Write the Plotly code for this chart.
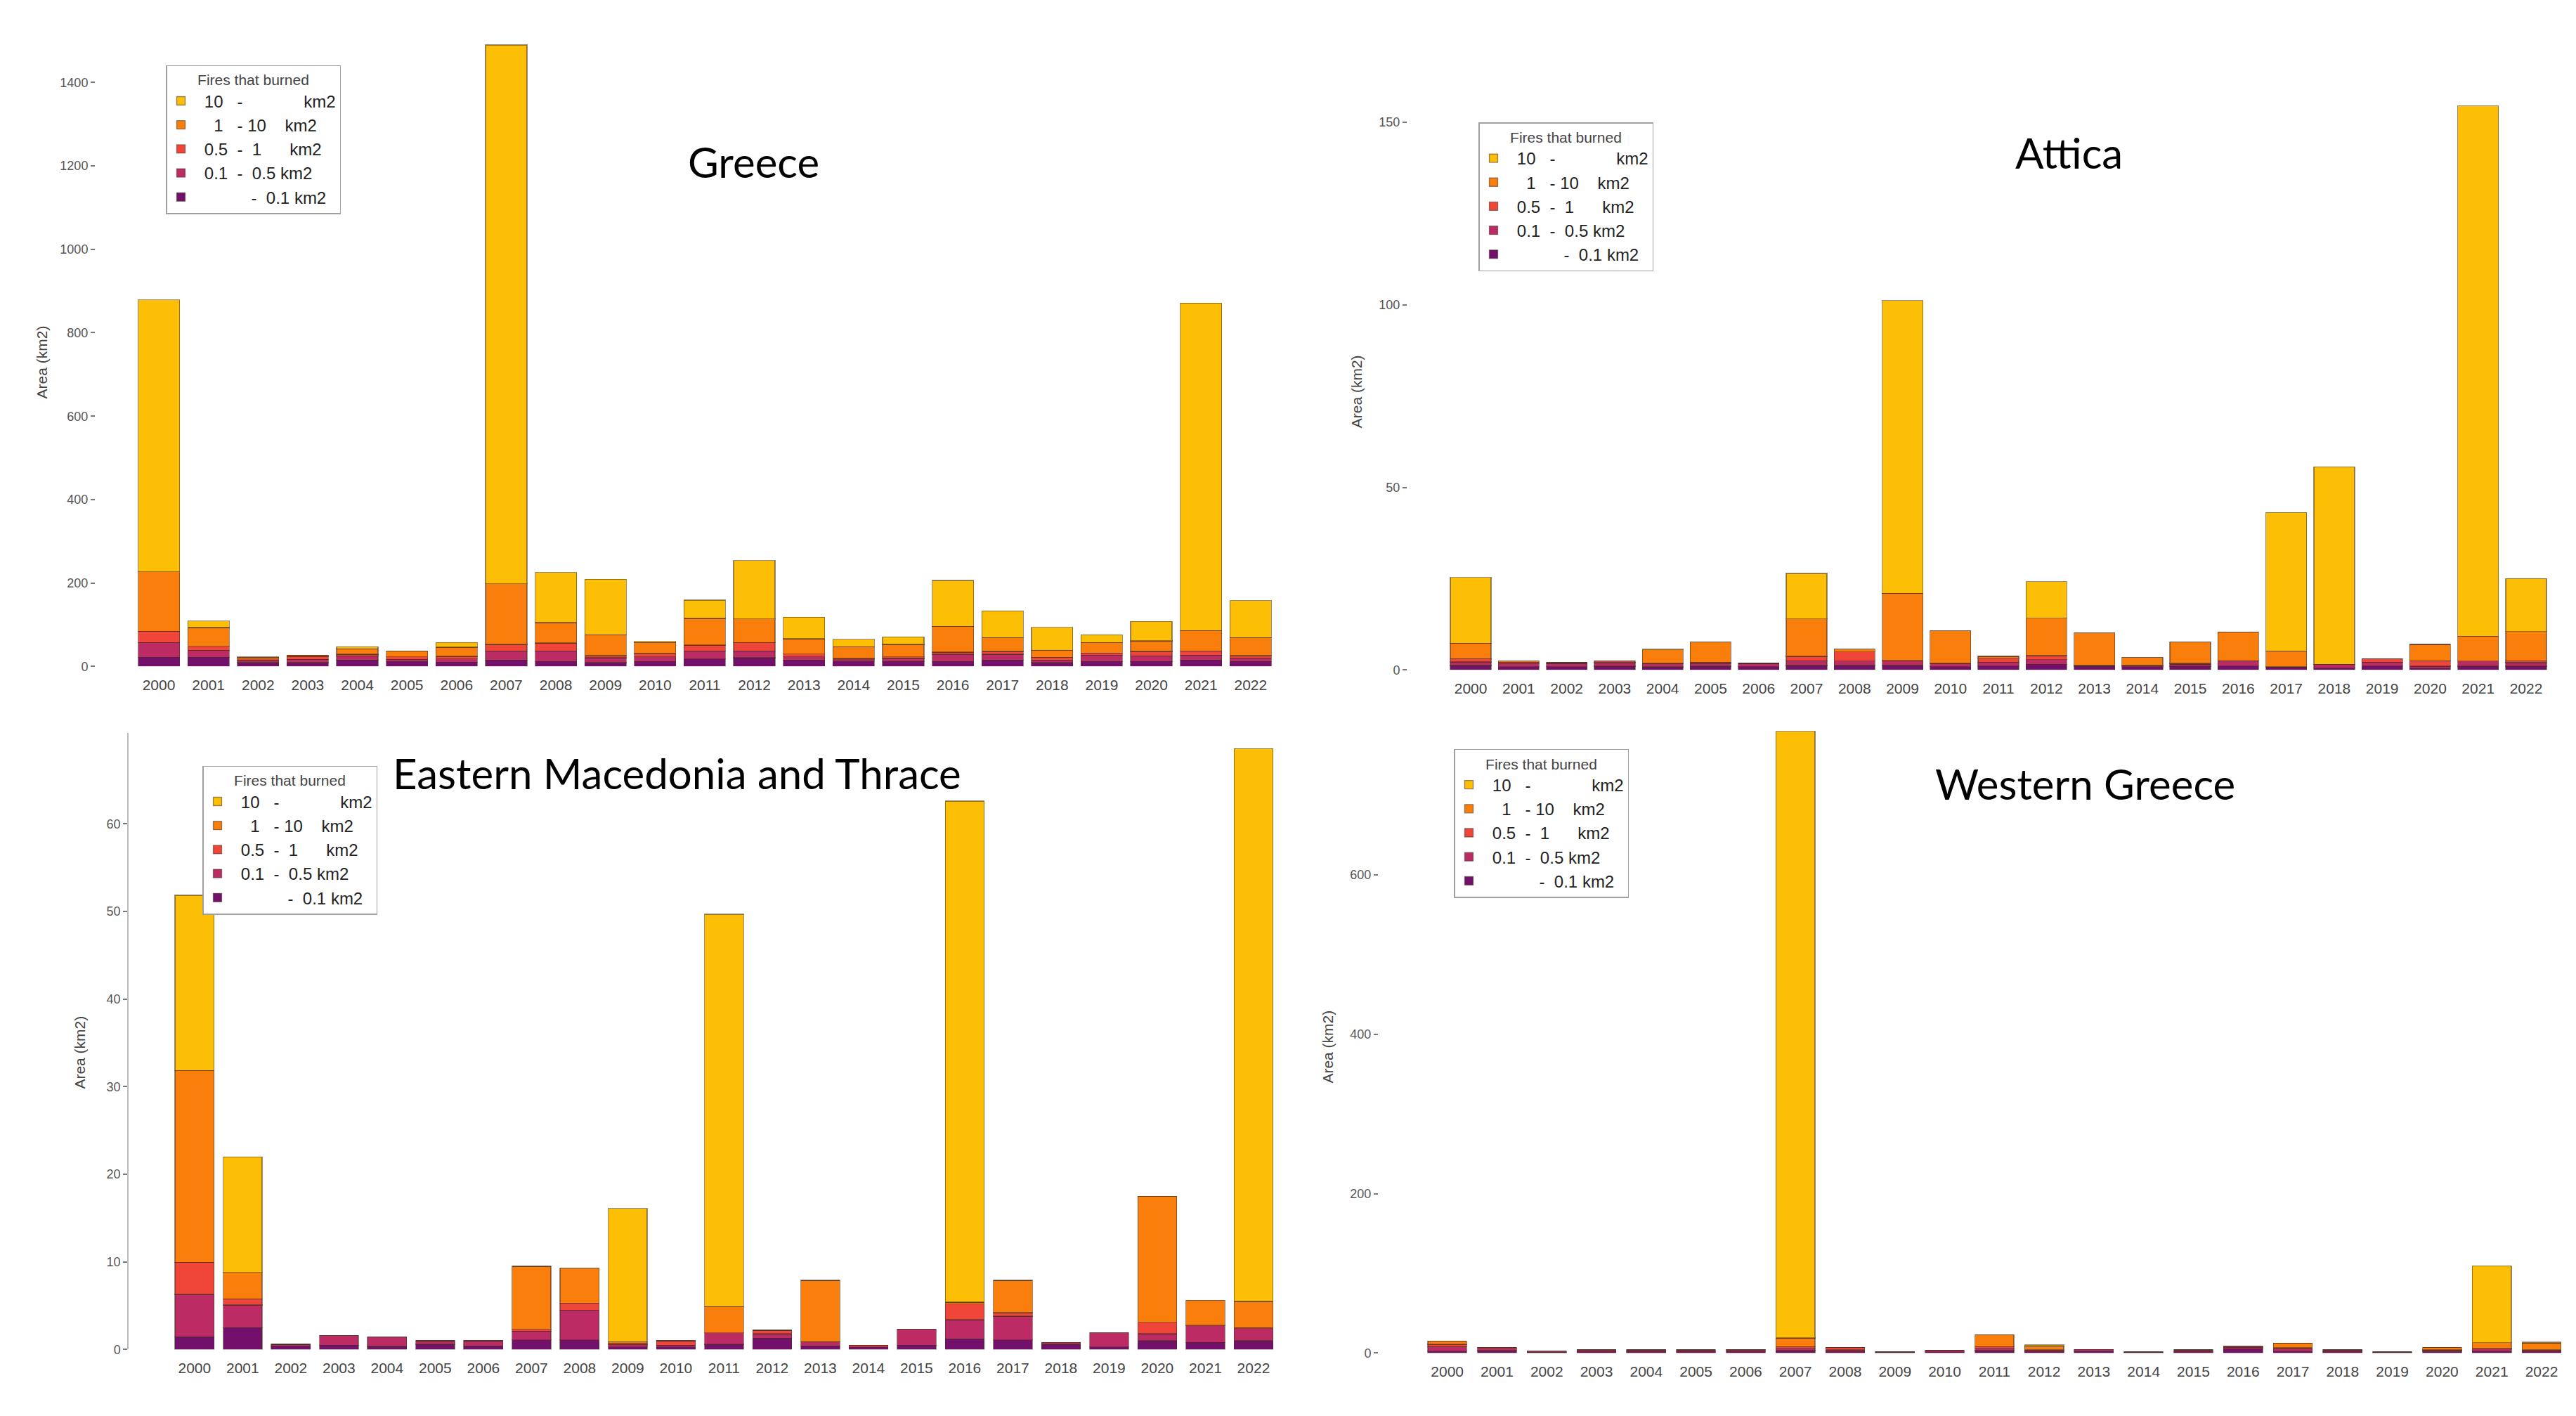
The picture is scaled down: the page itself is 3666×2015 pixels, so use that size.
import plotly.graph_objects as go

W, H = 3666, 2015
NB = "\u00a0"

years = [str(y) for y in range(2000, 2023)]

# burned area (km2) per size class, bottom of the stack first
greece_lt01 = [22, 22, 9, 9, 15, 12, 10, 15, 12, 9, 12, 18, 21, 15, 13, 12, 12, 15, 9, 12, 12, 15, 12]
greece_01_05 = [35, 17, 5, 8, 10, 5, 8, 22, 25, 12, 11, 19, 16, 8, 3, 7, 17, 14, 6, 15, 13, 12, 8]
greece_05_1 = [27, 9, 4, 7, 4, 6, 6, 16, 19, 5, 8, 14, 20, 7, 3, 4, 5, 7, 7, 5, 11, 10, 6]
greece_1_10 = [143, 45, 4, 3, 13, 14, 22, 145, 49, 50, 26, 64, 57, 36, 28, 30, 62, 33, 17, 25, 25, 49, 43]
greece_gt10 = [652, 16, 0.5, 0, 5, 0, 11, 1292, 120, 133, 3, 44, 140, 52, 18, 18, 110, 64, 55, 19, 47, 785, 89]

attica_lt01 = [1.2, 0.9, 0.9, 1.0, 0.8, 1.0, 0.9, 1.2, 1.2, 1.2, 0.9, 1.1, 1.5, 1.0, 0.9, 1.0, 1.1, 0.8, 0.5, 1.1, 0.5, 1.0, 1.0]
attica_01_05 = [1.0, 0.8, 0.8, 1.0, 1.0, 0.8, 0.9, 1.3, 1.2, 1.2, 0.9, 1.0, 1.3, 0.2, 0.3, 0.5, 1.4, 0, 1.0, 1.0, 0.5, 1.4, 1.0]
attica_05_1 = [0.9, 0.4, 0.3, 0.4, 0, 0.3, 0, 1.2, 2.5, 0.2, 0, 1.1, 1.1, 0, 0, 0.3, 0, 0, 0, 1.0, 1.5, 0, 0.5]
attica_1_10 = [4.2, 0.3, 0, 0, 3.7, 5.5, 0, 10.3, 0.8, 18.4, 8.9, 0.5, 10.3, 8.9, 2.2, 5.8, 7.9, 4.4, 0, 0, 4.5, 6.8, 8.0]
attica_gt10 = [18, 0, 0, 0, 0.2, 0, 0, 12.4, 0, 80.2, 0, 0, 10, 0, 0, 0, 0, 37.9, 54.1, 0, 0, 145.3, 14.5]

emt_lt01 = [1.45, 2.5, 0.4, 0.5, 0.35, 0.6, 0.4, 1.1, 1.1, 0.3, 0.3, 0.6, 1.3, 0.4, 0.3, 0.5, 1.2, 1.1, 0.6, 0.3, 1.0, 0.8, 1.0]
emt_01_05 = [4.85, 2.6, 0.2, 1.1, 1.1, 0.4, 0.6, 1.0, 3.4, 0.3, 0.2, 1.3, 0.5, 0.5, 0, 1.8, 2.2, 2.7, 0.2, 1.6, 0.8, 1.9, 1.4]
emt_05_1 = [3.65, 0.7, 0, 0, 0, 0, 0, 0.2, 0.8, 0.1, 0.5, 0, 0.4, 0, 0.2, 0, 1.8, 0.4, 0, 0, 1.3, 0.1, 0.1]
emt_1_10 = [21.9, 3.0, 0, 0, 0, 0, 0, 7.2, 4.0, 0.2, 0, 3.0, 0, 7.0, 0, 0, 0.2, 3.7, 0, 0, 14.4, 2.8, 3.0]
emt_gt10 = [20, 13.2, 0, 0, 0, 0, 0, 0, 0, 15.2, 0, 44.8, 0, 0, 0, 0, 57.2, 0, 0, 0, 0, 0, 63.1]

wg_lt01 = [2.3, 3, 1, 2, 2, 2, 2, 3, 2, 1, 1.5, 3, 2, 2.5, 1, 2, 5.5, 2.5, 2, 1, 1.5, 2.5, 2]
wg_01_05 = [5.7, 3, 1.5, 1.5, 2, 2, 2, 3, 2, 1, 2, 3, 2, 2, 1, 2, 2, 2.5, 2, 1, 1.5, 2.5, 2]
wg_05_1 = [3, 1, 0, 1, 0, 0, 0.5, 2, 3, 0, 0, 2, 0, 0, 0, 0, 1, 1.5, 0, 0, 1, 1, 0]
wg_1_10 = [4, 0, 0, 0, 0, 0, 0, 11, 0, 0, 0, 15, 4, 0, 0, 0, 0, 6, 0, 0, 3, 7, 8.5]
wg_gt10 = [0, 0, 0, 0, 0, 0, 0, 761, 0, 0, 0, 0, 2, 0, 0, 0, 0, 0, 0, 0, 0, 96.5, 1]

class_labels = [
    NB * 12 + "-" + NB * 2 + "0.1" + NB + "km2",
    NB * 2 + "0.1" + NB * 2 + "-" + NB * 2 + "0.5" + NB + "km2",
    NB * 2 + "0.5" + NB * 2 + "-" + NB * 2 + "1" + NB * 6 + "km2",
    NB * 4 + "1" + NB * 3 + "-" + NB + "10" + NB * 4 + "km2",
    NB * 2 + "10" + NB * 3 + "-" + NB * 13 + "km2",
]
colors = ["#72106C", "#BC2B64", "#F0463A", "#FA7E0C", "#FDBE06"]

panels = [
    dict(name="Greece", data=[greece_lt01, greece_01_05, greece_05_1, greece_1_10, greece_gt10],
         xpx=(128, 1810), xr=(-1.275, 22.54), ytop=30, yzero=945, ymax=1534,
         ticks=[0, 200, 400, 600, 800, 1000, 1200, 1400], width=0.835,
         title_xy=(1064, 223), ytitle_xy=(51, 510), legend_xy=(228, 85), yline=False),
    dict(name="Attica", data=[attica_lt01, attica_01_05, attica_05_1, attica_1_10, attica_gt10],
         xpx=(1995, 3630), xr=(-1.32, 22.63), ytop=30, yzero=950, ymax=176.2,
         ticks=[0, 50, 100, 150], width=0.85,
         title_xy=(2936, 210), ytitle_xy=(1922, 552), legend_xy=(2096, 167), yline=False),
    dict(name="Eastern Macedonia and Thrace", data=[emt_lt01, emt_01_05, emt_05_1, emt_1_10, emt_gt10],
         xpx=(175, 1815), xr=(-1.37, 22.57), ytop=1040, yzero=1922, ymax=70.4,
         ticks=[0, 10, 20, 30, 40, 50, 60], width=0.81,
         title_xy=(955, 1097), ytitle_xy=(106, 1497), legend_xy=(280, 1087), yline=True),
    dict(name="Western Greece", data=[wg_lt01, wg_01_05, wg_05_1, wg_1_10, wg_gt10],
         xpx=(1954, 3655), xr=(-1.38, 22.65), ytop=1030, yzero=1927, ymax=787,
         ticks=[0, 200, 400, 600], width=0.785,
         title_xy=(2959, 1113), ytitle_xy=(1882, 1489), legend_xy=(2061, 1063), yline=False),
]

fig = go.Figure()
layout = dict(
    width=W, height=H, margin=dict(l=0, r=0, t=0, b=0),
    paper_bgcolor="white", plot_bgcolor="white", barmode="stack",
    font=dict(family="Liberation Sans, Arial", color="#444"),
    annotations=[],
)

for i, p in enumerate(panels):
    n = "" if i == 0 else str(i + 1)
    xa, ya, lg = "x" + n, "y" + n, "legend" + n
    for k in range(5):
        fig.add_trace(go.Bar(
            x=years, y=p["data"][k], name=class_labels[k], xaxis=xa, yaxis=ya,
            width=p["width"], marker=dict(color=colors[k], line=dict(color="rgba(70,45,35,0.55)", width=1.3)),
            legend=lg, showlegend=True,
        ))
    layout["xaxis" + n] = dict(
        domain=[p["xpx"][0] / W, p["xpx"][1] / W], anchor=ya, type="category", range=list(p["xr"]),
        showgrid=False, zeroline=False, showline=False, ticks="",
        tickfont=dict(size=21, color="#444"), ticklabelstandoff=12, fixedrange=True,
    )
    layout["yaxis" + n] = dict(
        domain=[1 - p["yzero"] / H, 1 - p["ytop"] / H], anchor=xa, range=[0, p["ymax"]],
        tickvals=p["ticks"], showgrid=False, zeroline=False,
        showline=p["yline"], linecolor="#bbb", linewidth=1.5,
        ticks="outside", ticklen=6, tickcolor="#777", tickwidth=1.5,
        tickfont=dict(size=18, color="#555"),
    )
    layout[lg] = dict(
        x=p["legend_xy"][0] / W, y=1 - p["legend_xy"][1] / H, xanchor="left", yanchor="top",
        traceorder="reversed", bgcolor="white", bordercolor="#a0a0a0", borderwidth=1.5,
        font=dict(size=24, color="#222"),
        title=dict(text="Fires that burned", side="top center", font=dict(size=21, color="#444")),
        itemclick=False,
    )
    layout["annotations"].append(dict(
        x=p["title_xy"][0] / W, y=1 - p["title_xy"][1] / H, xref="paper", yref="paper",
        text=p["name"], showarrow=False, xanchor="center", yanchor="middle",
        font=dict(family="Lato, Open Sans", size=60, color="black"),
    ))
    layout["annotations"].append(dict(
        x=p["ytitle_xy"][0] / W, y=1 - p["ytitle_xy"][1] / H, xref="paper", yref="paper",
        text="Area (km2)", textangle=-90, showarrow=False, xanchor="center", yanchor="middle",
        font=dict(size=21, color="#444"),
    ))

fig.update_layout(**layout)
fig.write_html("out.html")
